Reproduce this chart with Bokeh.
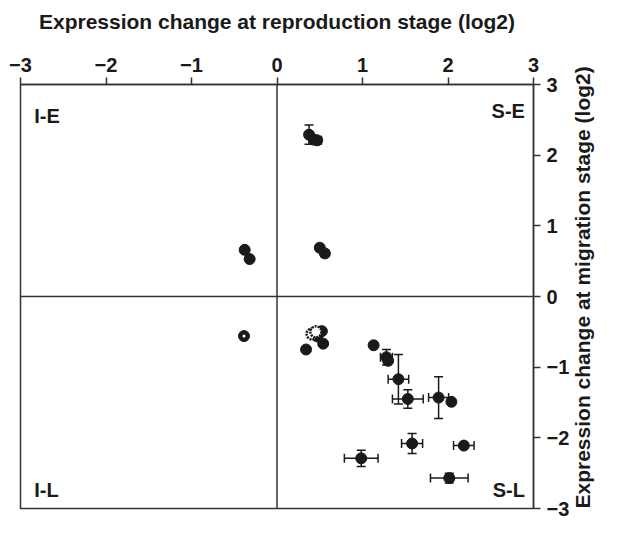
import math
from bokeh.plotting import figure
from bokeh.models import (LinearAxis, Range1d, FixedTicker, Span, Label, Title,
                          Whisker, ColumnDataSource, TeeHead)
from bokeh.embed import file_html
from bokeh.resources import INLINE

# ---- data (log2 expression changes) ----
# filled points: x = reproduction stage, y = migration stage, with error half-widths
fx = [0.375, 0.43, 0.47, -0.378, -0.32, 0.50, 0.56, 0.54, 0.34, 1.13, 1.28, 1.30,
      1.42, 1.53, 1.89, 2.04, 1.58, 2.185, 0.985, 2.015, 0.525, 0.47]
fy = [2.29, 2.22, 2.21, 0.66, 0.53, 0.69, 0.61, -0.667, -0.75, -0.69, -0.86, -0.91,
      -1.17, -1.45, -1.43, -1.49, -2.08, -2.11, -2.29, -2.57, -0.49, -0.565]
fxerr = [0, 0, 0.05, 0, 0, 0, 0, 0, 0, 0, 0.07, 0,
         0.12, 0.18, 0.117, 0, 0.123, 0.12, 0.197, 0.22, 0, 0]
fyerr = [0.137, 0, 0.03, 0, 0, 0, 0.05, 0, 0, 0, 0.11, 0,
         0.35, 0.13, 0.295, 0, 0.14, 0, 0.114, 0.07, 0, 0]
# dotted-outline points
ox = [0.41, 0.455]
oy = [-0.53, -0.50]
# ring point (black with white centre)
rx = [-0.386]
ry = [-0.56]

ticks = [-3, -2, -1, 0, 1, 2, 3]
quad_text = ["I-E", "S-E", "I-L", "S-L"]
x_title = "Expression change at reproduction stage (log2)"
y_title = "Expression change at migration stage (log2)"

INK = "#1a1a1a"
LINE = "#333333"
FONT = "Liberation Sans"

p = figure(width=608, height=520, x_range=Range1d(-3, 3), y_range=Range1d(-3, 3),
           x_axis_location=None, y_axis_location=None,
           output_backend="svg", toolbar_location=None,
           min_border_left=20, min_border_right=60, min_border_top=84, min_border_bottom=12)
p.grid.visible = False
p.outline_line_color = LINE
p.outline_line_width = 1.5
p.background_fill_color = "white"
p.border_fill_color = "white"


def style_axis(ax):
    ax.ticker = FixedTicker(ticks=ticks)
    ax.major_tick_out = 7
    ax.major_tick_in = 0
    ax.minor_tick_line_color = None
    ax.axis_line_color = LINE
    ax.axis_line_width = 1.5
    ax.major_tick_line_color = LINE
    ax.major_tick_line_width = 1.5
    ax.major_label_text_font = FONT
    ax.major_label_text_font_style = "bold"
    ax.major_label_text_font_size = "20px"
    ax.major_label_text_color = INK
    ax.axis_label_text_font = FONT
    ax.axis_label_text_font_style = "bold"
    ax.axis_label_text_font_size = "21px"
    ax.axis_label_text_color = INK


top = LinearAxis(axis_label=x_title)
style_axis(top)
top.major_label_standoff = 6
top.axis_label_standoff = 22
p.add_layout(top, "above")

right = LinearAxis()
style_axis(right)
right.major_label_standoff = 6
props = LinearAxis.properties()
if "axis_label_orientation" in props:
    right.axis_label = y_title
    right.axis_label_orientation = math.pi / 2
    right.axis_label_standoff = 10
    if "axis_label_align" in props:
        right.axis_label_align = "start"
    p.add_layout(right, "right")
else:
    p.add_layout(right, "right")
    p.add_layout(Title(text=y_title, align="center", text_font=FONT,
                       text_font_style="bold", text_font_size="21px",
                       text_color=INK), "right")

# zero lines
p.add_layout(Span(location=0, dimension="width", line_color=LINE, line_width=1.5))
p.add_layout(Span(location=0, dimension="height", line_color=LINE, line_width=1.5))

# quadrant labels
qpos = [(-2.84, 2.55, "left"), (2.9, 2.62, "right"), (-2.84, -2.74, "left"), (2.9, -2.74, "right")]
for t, (qx, qy, al) in zip(quad_text, qpos):
    p.add_layout(Label(x=qx, y=qy, text=t, text_align=al, text_baseline="middle",
                       text_font=FONT, text_font_style="bold", text_font_size="20px",
                       text_color=INK))

# error bars
iy = [i for i in range(len(fx)) if fyerr[i] > 0]
ix = [i for i in range(len(fx)) if fxerr[i] > 0]
ysrc = ColumnDataSource(dict(x=[fx[i] for i in iy],
                             lo=[fy[i] - fyerr[i] for i in iy],
                             hi=[fy[i] + fyerr[i] for i in iy]))
xsrc = ColumnDataSource(dict(y=[fy[i] for i in ix],
                             lo=[fx[i] - fxerr[i] for i in ix],
                             hi=[fx[i] + fxerr[i] for i in ix]))


def head():
    return TeeHead(size=9, line_color=INK, line_width=1.5)


p.add_layout(Whisker(source=ysrc, base="x", lower="lo", upper="hi", dimension="height",
                     line_color=INK, line_width=1.5, lower_head=head(), upper_head=head(),
                     level="glyph"))
p.add_layout(Whisker(source=xsrc, base="y", lower="lo", upper="hi", dimension="width",
                     line_color=INK, line_width=1.5, lower_head=head(), upper_head=head(),
                     level="glyph"))

# points
p.scatter(fx, fy, size=11, fill_color=INK, line_color=INK)
p.scatter(ox, oy, size=11, fill_color="white", line_color=INK, line_width=2.5, line_dash="2 1")
p.scatter(rx, ry, size=11, fill_color=INK, line_color=INK)
p.scatter(rx, ry, size=3, fill_color="white", line_color=None)

open("out.html", "w").write(file_html(p, INLINE))
